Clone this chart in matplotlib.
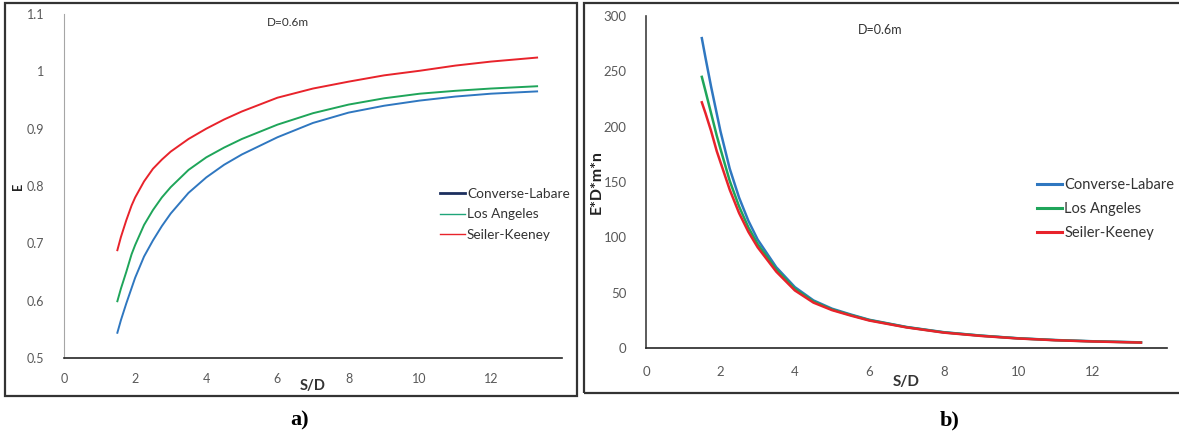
import numpy as np
import matplotlib
matplotlib.use("Agg")
import matplotlib.pyplot as plt
from matplotlib.patches import Rectangle
from matplotlib.lines import Line2D

plt.rcParams['font.family'] = ['Lato', 'DejaVu Sans']

# panel a) efficiency E vs S/D
sd_a = [1.5, 1.6, 1.75, 1.9, 2.0, 2.25, 2.5, 2.75, 3.0, 3.5, 4.0, 4.5, 5.0, 6.0,
        7.0, 8.0, 9.0, 10.0, 11.0, 12.0, 13.3]
e_converse = [0.544, 0.566, 0.595, 0.622, 0.640, 0.677, 0.705, 0.730, 0.752, 0.788,
              0.815, 0.837, 0.855, 0.885, 0.910, 0.928, 0.940, 0.949, 0.956, 0.961, 0.965]
e_losangeles = [0.599, 0.621, 0.650, 0.681, 0.697, 0.732, 0.758, 0.780, 0.798, 0.828,
                0.850, 0.867, 0.882, 0.907, 0.927, 0.942, 0.953, 0.961, 0.966, 0.970, 0.974]
e_seiler = [0.688, 0.711, 0.740, 0.766, 0.780, 0.808, 0.830, 0.846, 0.860, 0.882,
            0.900, 0.916, 0.930, 0.954, 0.970, 0.982, 0.993, 1.001, 1.010, 1.017, 1.024]

# panel b) E*D*m*n vs S/D
sd_b = [1.5, 1.6, 1.75, 1.9, 2.0, 2.25, 2.5, 2.75, 3.0, 3.5, 4.0, 4.5, 5.0, 5.5, 6.0,
        7.0, 8.0, 9.0, 10.0, 11.0, 12.0, 13.3]
q_converse = [280, 262, 236, 212, 196, 162, 136, 115, 98, 73, 55, 43, 35.5, 30.3, 25.5,
              19.0, 14.3, 11.2, 8.8, 7.2, 6.1, 5.1]
q_losangeles = [245, 232, 212, 192, 180, 151, 128, 109, 94, 71, 53.5, 42, 34.8, 29.8, 25.2,
                18.8, 14.1, 11.1, 8.7, 7.1, 6.0, 5.0]
q_seiler = [222, 212, 196, 178, 168, 143, 122, 105, 91, 69, 52, 41, 34.2, 29.3, 24.8,
            18.6, 13.9, 10.9, 8.6, 7.0, 5.9, 4.9]

names = ['Converse-Labare', 'Los Angeles', 'Seiler-Keeney']
colors = ['#2f77c0', '#1fa55a', '#e8232b']

W, H = 1179, 437
fig = plt.figure(figsize=(W / 100, H / 100), dpi=100)

# panel frames
fig.patches.append(Rectangle((5 / W, 1 - 396 / H), 572 / W, 393 / H, transform=fig.transFigure,
                             fill=False, edgecolor='#333333', linewidth=1.6))
fig.patches.append(Rectangle((584 / W, 1 - 393 / H), 600 / W, 390 / H, transform=fig.transFigure,
                             fill=False, edgecolor='#333333', linewidth=1.6))

tick_col = '#595959'

# ---- a)
ax1 = fig.add_axes([64 / W, 1 - 358 / H, 498 / W, 344 / H])
for y, c in zip([e_converse, e_losangeles, e_seiler], colors):
    ax1.plot(sd_a, y, color=c, lw=1.4)
ax1.set_xlim(0, 14)
ax1.set_ylim(0.5, 1.1)
ax1.set_xticks(range(0, 14, 2))
ax1.set_yticks([0.5, 0.6, 0.7, 0.8, 0.9, 1.0, 1.1])
ax1.set_yticklabels(['0.5', '0.6', '0.7', '0.8', '0.9', '1', '1.1'])
ax1.tick_params(length=0, labelsize=9, labelcolor=tick_col)
ax1.tick_params(axis='x', pad=11)
ax1.tick_params(axis='y', pad=14)
for s in ['top', 'right']:
    ax1.spines[s].set_visible(False)
ax1.spines['left'].set_color('#a6a6a6')
ax1.spines['bottom'].set_color('#262626')
ax1.spines['bottom'].set_linewidth(1.2)
ax1.text(6.3, 1.085, 'D=0.6m', fontsize=8.5, color='#333333', ha='center', va='center')
ax1.text(7.0, 0.451, 'S/D', fontsize=10.5, fontweight='bold',
         color='#333333', ha='center', va='center')
ax1.text(-0.092, 0.5, 'E', transform=ax1.transAxes, rotation=90, fontsize=9,
         fontweight='bold', color='#222222', ha='center', va='center')
handles_a = [Line2D([], [], color='#1c2f5e', lw=2.0),
             Line2D([], [], color='#1fa57a', lw=1.0),
             Line2D([], [], color='#e8232b', lw=1.0)]
ax1.legend(handles_a, names, loc='upper left', bbox_to_anchor=(0.745, 0.51), frameon=False,
           fontsize=9.8, handlelength=1.8, handletextpad=0.15, labelspacing=0.62,
           labelcolor='#333333', borderaxespad=0)

# ---- b)
ax2 = fig.add_axes([646 / W, 1 - 348 / H, 521 / W, 332 / H])
for y, c in zip([q_converse, q_losangeles, q_seiler], colors):
    ax2.plot(sd_b, y, color=c, lw=1.8)
ax2.set_xlim(0, 14)
ax2.set_ylim(0, 300)
ax2.set_xticks(range(0, 14, 2))
ax2.set_yticks(range(0, 301, 50))
ax2.tick_params(length=0, labelsize=9.5, labelcolor=tick_col)
ax2.tick_params(axis='x', pad=13)
ax2.tick_params(axis='y', pad=14)
for s in ['top', 'right']:
    ax2.spines[s].set_visible(False)
ax2.spines['left'].set_color('#404040')
ax2.spines['bottom'].set_color('#262626')
ax2.spines['left'].set_linewidth(1.2)
ax2.spines['bottom'].set_linewidth(1.2)
ax2.text(6.3, 287, 'D=0.6m', fontsize=9, color='#333333', ha='center', va='center')
ax2.text(7.0, -30.7, 'S/D', fontsize=11, fontweight='bold', color='#333333',
         ha='center', va='center')
ax2.text(-0.094, 0.5, 'E*D*m*n', transform=ax2.transAxes, rotation=90, fontsize=11.5,
         fontweight='bold', color='#222222', ha='center', va='center')
handles_b = [Line2D([], [], color=c, lw=2.2) for c in colors]
ax2.legend(handles_b, names, loc='upper left', bbox_to_anchor=(0.74, 0.53), frameon=False,
           fontsize=10.5, handlelength=1.7, handletextpad=0.15, labelspacing=0.7,
           labelcolor='#333333', borderaxespad=0)

# panel letters
fig.text(300 / W, 1 - 420 / H, 'a)', fontsize=16, fontweight='bold',
         family=['Liberation Serif', 'DejaVu Serif'], ha='center', va='center')
fig.text(950 / W, 1 - 420 / H, 'b)', fontsize=16, fontweight='bold',
         family=['Liberation Serif', 'DejaVu Serif'], ha='center', va='center')

fig.savefig('out.png', dpi=100)
